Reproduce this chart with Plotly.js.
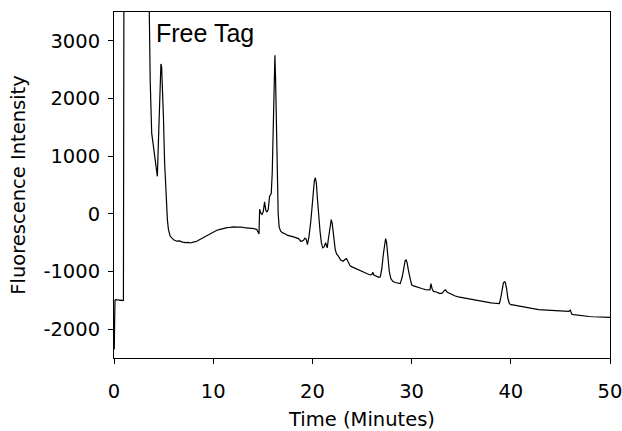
<!DOCTYPE html>
<html>
<head>
<meta charset="utf-8">
<script src="https://cdn.plot.ly/plotly-3.0.1.min.js"></script>
<style>html,body{margin:0;padding:0;background:#fff;}#chart{width:622px;height:431px;}</style>
</head>
<body>
<div id="chart"></div>
<script>
// Retention time (minutes)
const timeMin = [
  0.0, 0.03, 0.06, 0.1, 0.2, 0.3, 0.45, 0.6, 0.75, 0.85, 0.95, 1.0, 3.5,
  3.55, 3.65, 3.8, 3.95, 4.1, 4.25, 4.37, 4.45, 4.55, 4.65, 4.73, 4.8,
  4.9, 4.98, 5.1, 5.25, 5.38, 5.49, 5.65, 5.82, 6.05, 6.33, 6.6, 6.9,
  7.2, 7.5, 7.7, 8.0, 8.35, 8.7, 9.0, 9.36, 9.7, 10.0, 10.37, 10.7,
  11.0, 11.4, 11.7, 12.05, 12.4, 12.8, 13.1, 13.4, 13.8, 14.1, 14.4, 14.55,
  14.62, 14.68, 14.8, 14.92, 15.05, 15.18, 15.3, 15.42, 15.55, 15.68, 15.78,
  15.85, 15.95, 16.02, 16.1, 16.17, 16.22, 16.28, 16.36, 16.45, 16.55, 16.65,
  16.8, 17.0, 17.2, 17.45, 17.7, 17.9, 18.1, 18.35, 18.6, 18.85, 19.1, 19.25,
  19.38, 19.5, 19.65, 19.84, 20.0, 20.1, 20.2, 20.3, 20.4, 20.5, 20.62, 20.77,
  20.9, 21.04, 21.2, 21.33, 21.42, 21.5, 21.6, 21.7, 21.8, 21.9, 22.0, 22.1,
  22.2, 22.3, 22.45, 22.6, 22.85, 23.1, 23.3, 23.45, 23.6, 23.8, 24.0, 24.3,
  24.6, 24.9, 25.2, 25.5, 25.8, 26.0, 26.1, 26.2, 26.45, 26.7, 26.85, 27.0,
  27.15, 27.28, 27.38, 27.48, 27.6, 27.75, 27.9, 28.1, 28.35, 28.6, 28.85, 29.05,
  29.2, 29.35, 29.45, 29.55, 29.7, 29.85, 30.0, 30.2, 30.5, 30.8, 31.1, 31.4,
  31.7, 31.85, 31.95, 32.05, 32.2, 32.5, 32.8, 33.05, 33.25, 33.4, 33.6, 33.85,
  34.1, 34.4, 34.7, 35.0, 35.3, 35.6, 35.9, 36.2, 36.5, 36.8, 37.1, 37.4,
  37.7, 38.0, 38.3, 38.6, 38.85, 39.0, 39.12, 39.25, 39.35, 39.45, 39.58, 39.7,
  39.85, 40.0, 40.2, 40.5, 40.8, 41.1, 41.4, 41.7, 42.0, 42.4, 42.8, 43.2,
  43.6, 44.0, 44.4, 44.8, 45.2, 45.6, 45.85, 46.0, 46.15, 46.3, 46.7, 47.1,
  47.5, 47.9, 48.3, 48.7, 49.1, 49.5, 50.0
];
// Fluorescence intensity
const intensity = [
  -2050, -2350, -1900, -1500, -1485, -1495, -1490, -1500, -1495, -1505, -1500, 4000, 4000,
  3600, 2300, 1400, 1200, 1050, 850, 650, 1100, 1700, 2300, 2600, 2550,
  2200, 1700, 900, 200, -100, -273, -380, -417, -455, -475, -470, -490,
  -500, -495, -505, -490, -475, -440, -410, -377, -345, -320, -285, -270,
  -255, -240, -235, -226, -232, -228, -240, -243, -250, -255, -273, -320,
  -350, 80, 10, -10, 40, 210, 60, 30, 80, 300, 330,
  350, 700, 1200, 2000, 2650, 2750, 2400, 1600, 700, 0, -230,
  -300, -330, -340, -370, -375, -390, -400, -410, -430, -480, -460, -420,
  -440, -533, -400, -128, 250, 422, 580, 625, 530, 278, -30, -302,
  -500, -590, -570, -500, -550, -590, -450, -302, -150, -99, -170, -360,
  -520, -620, -700, -730, -800, -823, -790, -780, -830, -900, -920, -945,
  -960, -990, -1010, -1040, -1060, -1050, -1015, -1060, -1085, -1100, -1090, -950,
  -700, -480, -430, -500, -750, -1000, -1120, -1170, -1190, -1205, -1210, -1100,
  -930, -810, -800, -850, -1000, -1150, -1230, -1250, -1270, -1290, -1300, -1315,
  -1325, -1320, -1210, -1290, -1345, -1355, -1380, -1380, -1340, -1320, -1360, -1385,
  -1400, -1425, -1440, -1450, -1465, -1470, -1480, -1490, -1500, -1510, -1520, -1525,
  -1535, -1545, -1550, -1560, -1555, -1450, -1290, -1200, -1180, -1190, -1300, -1460,
  -1555, -1575, -1580, -1590, -1605, -1615, -1625, -1632, -1640, -1650, -1660, -1665,
  -1670, -1675, -1680, -1683, -1688, -1690, -1690, -1670, -1740, -1748, -1758, -1765,
  -1772, -1780, -1785, -1788, -1790, -1792, -1795
];
const xTicks = [0, 10, 20, 30, 40, 50];
const yTicks = [-2000, -1000, 0, 1000, 2000, 3000];
const labelText = "Free Tag";

const trace = {
  x: timeMin, y: intensity, type: 'scatter', mode: 'lines',
  line: {color: '#000', width: 1.2},
  hoverinfo: 'skip'
};
const tickFont = {family: 'DejaVu Sans, Verdana, sans-serif', size: 19.5, color: '#000'};
const layout = {
  width: 622, height: 431,
  margin: {l: 114, r: 12, t: 12, b: 73},
  paper_bgcolor: '#fff', plot_bgcolor: '#fff',
  showlegend: false,
  xaxis: {
    range: [0, 50], tickvals: xTicks, ticktext: xTicks.map(String),
    ticks: 'outside', ticklen: 5, tickcolor: '#000', tickwidth: 1,
    showline: true, linecolor: '#000', linewidth: 1, mirror: true,
    showgrid: false, zeroline: false,
    tickfont: tickFont, ticklabelstandoff: 11, ticklabeloverflow: 'allow',
    title: {text: 'Time (Minutes)', font: tickFont, standoff: 19}
  },
  yaxis: {
    range: [-2500, 3500], tickvals: yTicks, ticktext: yTicks.map(String),
    ticks: 'outside', ticklen: 5, tickcolor: '#000', tickwidth: 1,
    showline: true, linecolor: '#000', linewidth: 1, mirror: true,
    showgrid: false, zeroline: false,
    tickfont: tickFont, ticklabelstandoff: 4, ticklabeloverflow: 'allow',
    title: {text: 'Fluorescence Intensity', font: tickFont, standoff: 12}
  },
  annotations: [{
    text: labelText, xref: 'paper', yref: 'paper',
    x: (205 - 114) / 496, y: 1 - (33 - 12) / 346,
    xanchor: 'center', yanchor: 'middle', showarrow: false,
    font: {family: 'Liberation Sans, Arial, sans-serif', size: 25, color: '#000'}
  }]
};
Plotly.newPlot('chart', [trace], layout, {displayModeBar: false, staticPlot: true});
</script>
</body>
</html>
